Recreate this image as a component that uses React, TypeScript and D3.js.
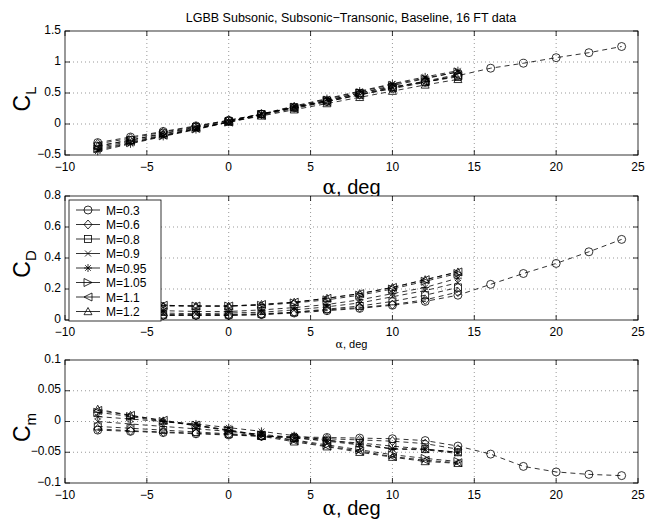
import React from "react";
import * as d3 from "d3";

const alphaBase = [-8, -6, -4, -2, 0, 2, 4, 6, 8, 10, 12, 14];
const alphaExt = [-8, -6, -4, -2, 0, 2, 4, 6, 8, 10, 12, 14, 16, 18, 20, 22, 24];
const machLabels = ["M=0.3", "M=0.6", "M=0.8", "M=0.9", "M=0.95", "M=1.05", "M=1.1", "M=1.2"];
const markerTypes = ["circle", "diamond", "square", "x", "star", "triRight", "triLeft", "triUp"];

const clM03 = [-0.30, -0.21, -0.12, -0.03, 0.06, 0.16, 0.26, 0.36, 0.47, 0.57, 0.67, 0.78, 0.90, 0.98, 1.07, 1.15, 1.25];
const clM06 = [-0.32, -0.23, -0.13, -0.04, 0.06, 0.16, 0.27, 0.37, 0.48, 0.59, 0.69, 0.80];
const clM08 = [-0.36, -0.26, -0.15, -0.05, 0.05, 0.16, 0.27, 0.38, 0.50, 0.60, 0.68, 0.76];
const clM09 = [-0.42, -0.31, -0.19, -0.08, 0.04, 0.16, 0.28, 0.40, 0.52, 0.64, 0.74, 0.84];
const clM095 = [-0.44, -0.32, -0.20, -0.09, 0.03, 0.16, 0.29, 0.41, 0.53, 0.65, 0.76, 0.86];
const clM105 = [-0.40, -0.30, -0.19, -0.08, 0.03, 0.15, 0.27, 0.38, 0.50, 0.62, 0.73, 0.84];
const clM11 = [-0.38, -0.28, -0.18, -0.07, 0.03, 0.14, 0.25, 0.36, 0.47, 0.58, 0.68, 0.78];
const clM12 = [-0.35, -0.26, -0.16, -0.06, 0.03, 0.13, 0.23, 0.33, 0.43, 0.53, 0.63, 0.72];

const cdM03 = [0.04, 0.035, 0.03, 0.03, 0.03, 0.035, 0.045, 0.06, 0.075, 0.095, 0.12, 0.16, 0.23, 0.30, 0.365, 0.44, 0.52];
const cdM06 = [0.045, 0.035, 0.03, 0.03, 0.03, 0.035, 0.05, 0.065, 0.08, 0.10, 0.13, 0.18];
const cdM08 = [0.05, 0.04, 0.035, 0.035, 0.035, 0.04, 0.05, 0.07, 0.09, 0.12, 0.16, 0.21];
const cdM09 = [0.06, 0.05, 0.045, 0.04, 0.045, 0.05, 0.065, 0.085, 0.11, 0.15, 0.19, 0.24];
const cdM095 = [0.075, 0.065, 0.06, 0.055, 0.055, 0.065, 0.08, 0.10, 0.13, 0.17, 0.21, 0.27];
const cdM105 = [0.11, 0.10, 0.095, 0.09, 0.09, 0.095, 0.11, 0.13, 0.16, 0.20, 0.25, 0.30];
const cdM11 = [0.11, 0.10, 0.095, 0.09, 0.09, 0.10, 0.115, 0.14, 0.17, 0.21, 0.26, 0.31];
const cdM12 = [0.105, 0.10, 0.09, 0.09, 0.09, 0.10, 0.115, 0.14, 0.17, 0.21, 0.26, 0.31];

const cmM03 = [-0.014, -0.016, -0.018, -0.020, -0.022, -0.024, -0.025, -0.026, -0.027, -0.028, -0.031, -0.040, -0.053, -0.073, -0.082, -0.086, -0.088];
const cmM06 = [-0.012, -0.015, -0.017, -0.019, -0.021, -0.024, -0.026, -0.028, -0.030, -0.032, -0.036, -0.045];
const cmM08 = [-0.008, -0.011, -0.014, -0.017, -0.020, -0.023, -0.027, -0.031, -0.035, -0.040, -0.045, -0.050];
const cmM09 = [0.0, -0.004, -0.008, -0.012, -0.016, -0.021, -0.026, -0.032, -0.038, -0.045, -0.046, -0.052];
const cmM095 = [0.008, 0.004, 0.0, -0.004, -0.010, -0.016, -0.023, -0.030, -0.037, -0.044, -0.045, -0.050];
const cmM105 = [0.015, 0.008, 0.0, -0.006, -0.014, -0.022, -0.030, -0.038, -0.046, -0.054, -0.060, -0.065];
const cmM11 = [0.018, 0.010, 0.002, -0.006, -0.014, -0.023, -0.031, -0.040, -0.048, -0.057, -0.063, -0.067];
const cmM12 = [0.020, 0.010, 0.001, -0.007, -0.015, -0.024, -0.033, -0.041, -0.050, -0.058, -0.065, -0.068];

const xTicks = [-10, -5, 0, 5, 10, 15, 20, 25];
const clTicks = [-0.5, 0, 0.5, 1, 1.5];
const cdTicks = [0, 0.2, 0.4, 0.6, 0.8];
const cmTicks = [-0.1, -0.05, 0, 0.05, 0.1];

const titleText = "LGBB Subsonic, Subsonic\u2212Transonic, Baseline, 16 FT data";

const FONT = "'Liberation Sans', Arial, Helvetica, sans-serif";
const X0 = 65;
const X1 = 638;

function fmt(v: number) {
  const s = String(Math.round(v * 1000) / 1000);
  return s.replace("-", "\u2212");
}

function Marker({ type, x, y }: { type: string; x: number; y: number }) {
  const s = 4;
  const common = { fill: "none", stroke: "#000", strokeWidth: 0.8 };
  switch (type) {
    case "circle":
      return <circle cx={x} cy={y} r={s} {...common} />;
    case "diamond":
      return <path d={`M${x},${y - s - 0.5}L${x + s},${y}L${x},${y + s + 0.5}L${x - s},${y}Z`} {...common} />;
    case "square":
      return <rect x={x - 3.5} y={y - 3.5} width={7} height={7} {...common} />;
    case "x":
      return <path d={`M${x - 3},${y - 3}L${x + 3},${y + 3}M${x - 3},${y + 3}L${x + 3},${y - 3}`} {...common} />;
    case "star":
      return (
        <path
          d={`M${x - 4},${y}L${x + 4},${y}M${x - 2.8},${y - 2.8}L${x + 2.8},${y + 2.8}M${x - 2.8},${y + 2.8}L${x + 2.8},${y - 2.8}M${x},${y - 4}L${x},${y + 4}`}
          {...common}
        />
      );
    case "triRight":
      return <path d={`M${x + s},${y}L${x - s},${y - s}L${x - s},${y + s}Z`} {...common} />;
    case "triLeft":
      return <path d={`M${x - s},${y}L${x + s},${y - s}L${x + s},${y + s}Z`} {...common} />;
    case "triUp":
      return <path d={`M${x},${y - s}L${x + s},${y + s * 0.8}L${x - s},${y + s * 0.8}Z`} {...common} />;
    default:
      return null;
  }
}

type PanelProps = {
  top: number;
  bottom: number;
  domain: [number, number];
  yTicks: number[];
  series: number[][];
  ySub: string;
  xLabelSize: number;
  xLabelY: number;
  legend?: boolean;
};

function Panel({ top, bottom, domain, yTicks, series, ySub, xLabelSize, xLabelY, legend }: PanelProps) {
  const x = d3.scaleLinear().domain([-10, 25]).range([X0, X1]);
  const y = d3.scaleLinear().domain(domain).range([bottom, top]);
  const line = d3
    .line<[number, number]>()
    .x((d) => x(d[0]))
    .y((d) => y(d[1]));
  const tl = 5;
  const midY = (top + bottom) / 2;
  return (
    <g>
      <rect x={X0} y={top} width={X1 - X0} height={bottom - top} fill="#fff" />
      {xTicks.slice(1, -1).map((t) => (
        <line key={"gx" + t} x1={x(t)} x2={x(t)} y1={top} y2={bottom} stroke="#555" strokeWidth={0.6} strokeDasharray="1,3" />
      ))}
      {yTicks.slice(1, -1).map((t) => (
        <line key={"gy" + t} x1={X0} x2={X1} y1={y(t)} y2={y(t)} stroke="#555" strokeWidth={0.6} strokeDasharray="1,3" />
      ))}
      {series.map((vals, i) => {
        const alphas = vals.length > alphaBase.length ? alphaExt : alphaBase;
        const pts = vals.map((v, j) => [alphas[j], v] as [number, number]);
        return (
          <g key={"s" + i}>
            <path d={line(pts) || ""} fill="none" stroke="#000" strokeWidth={0.8} strokeDasharray="5,4" />
            {pts.map((p, j) => (
              <Marker key={j} type={markerTypes[i]} x={x(p[0])} y={y(p[1])} />
            ))}
          </g>
        );
      })}
      <rect x={X0} y={top} width={X1 - X0} height={bottom - top} fill="none" stroke="#000" strokeWidth={0.8} />
      {xTicks.map((t) => (
        <g key={"tx" + t}>
          <line x1={x(t)} x2={x(t)} y1={bottom} y2={bottom - tl} stroke="#000" strokeWidth={0.8} />
          <line x1={x(t)} x2={x(t)} y1={top} y2={top + tl} stroke="#000" strokeWidth={0.8} />
          <text x={x(t)} y={bottom + 16} textAnchor="middle" fontSize={12} fontFamily={FONT}>
            {fmt(t)}
          </text>
        </g>
      ))}
      {yTicks.map((t) => (
        <g key={"ty" + t}>
          <line x1={X0} x2={X0 + tl} y1={y(t)} y2={y(t)} stroke="#000" strokeWidth={0.8} />
          <line x1={X1} x2={X1 - tl} y1={y(t)} y2={y(t)} stroke="#000" strokeWidth={0.8} />
          <text x={X0 - 4} y={y(t) + 2.5} textAnchor="end" fontSize={12} fontFamily={FONT}>
            {fmt(t)}
          </text>
        </g>
      ))}
      <text transform={`translate(30,${midY + 6}) rotate(-90)`} textAnchor="middle" fontSize={23} fontFamily={FONT}>
        C
        <tspan fontSize={15} dy={6}>
          {ySub}
        </tspan>
      </text>
      <text x={(X0 + X1) / 2} y={xLabelY} textAnchor="middle" fontSize={xLabelSize} fontFamily={FONT}>
        <tspan fontFamily="'DejaVu Serif', 'Liberation Serif', serif">α</tspan>, deg
      </text>
      {legend && (
        <g>
          <rect x={69} y={200} width={92} height={121} fill="#fff" stroke="#000" strokeWidth={0.8} />
          {machLabels.map((m, i) => {
            const ly = 210 + i * 14.5;
            return (
              <g key={m}>
                <line x1={76} x2={100} y1={ly} y2={ly} stroke="#000" strokeWidth={0.8} />
                <Marker type={markerTypes[i]} x={88} y={ly} />
                <text x={106} y={ly + 4.5} fontSize={12} fontFamily={FONT}>
                  {m}
                </text>
              </g>
            );
          })}
        </g>
      )}
    </g>
  );
}

export default function App() {
  const clSeries = [clM03, clM06, clM08, clM09, clM095, clM105, clM11, clM12];
  const cdSeries = [cdM03, cdM06, cdM08, cdM09, cdM095, cdM105, cdM11, cdM12];
  const cmSeries = [cmM03, cmM06, cmM08, cmM09, cmM095, cmM105, cmM11, cmM12];
  return (
    <div style={{ position: "absolute", left: 0, top: 0 }}>
      <svg width={647} height={522} style={{ display: "block", background: "#fff" }}>
        <rect width={647} height={522} fill="#fff" />
        <text x={351} y={22} textAnchor="middle" fontSize={12.5} fontFamily={FONT}>
          {titleText}
        </text>
        <Panel top={31} bottom={155} domain={[-0.5, 1.5]} yTicks={clTicks} series={clSeries} ySub="L" xLabelSize={20} xLabelY={194} />
        <Panel top={196} bottom={320} domain={[0, 0.8]} yTicks={cdTicks} series={cdSeries} ySub="D" xLabelSize={11} xLabelY={348} legend />
        <Panel top={360} bottom={483} domain={[-0.1, 0.1]} yTicks={cmTicks} series={cmSeries} ySub="m" xLabelSize={20} xLabelY={515} />
      </svg>
    </div>
  );
}
